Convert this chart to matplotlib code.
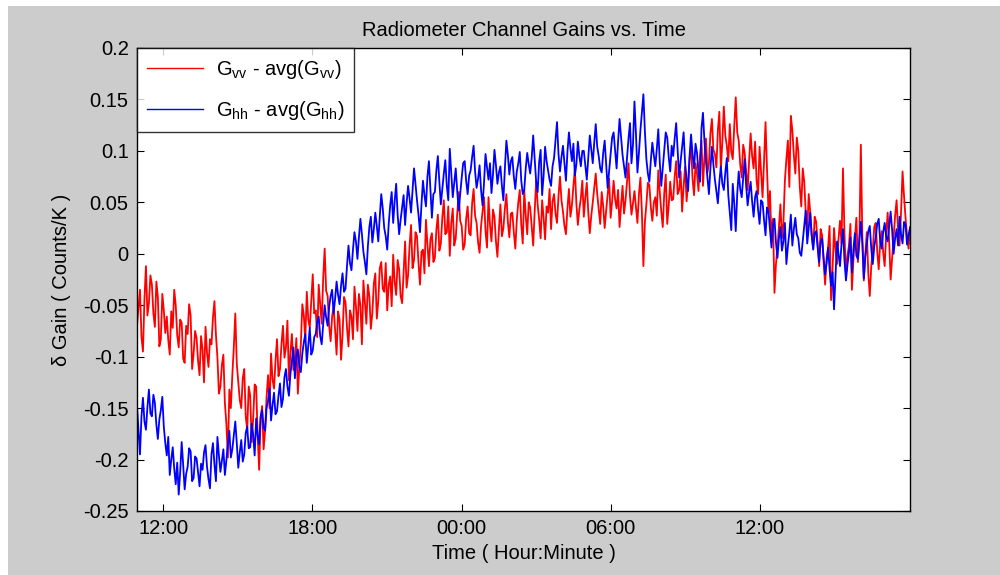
import numpy as np
import matplotlib
matplotlib.use("Agg")
import matplotlib.pyplot as plt
from matplotlib.patches import Rectangle

# Sampling window (hours since midnight of the first day)
t_start = 10.95
t_end = 42.03

# G_vv - avg(G_vv), counts/K
gain_vv = [
    -0.070, -0.052, -0.035, -0.081, -0.095, -0.044, -0.012, -0.060, -0.048, -0.021, -0.030, -0.058, -0.071, -0.027, -0.042, -0.090, -0.083, -0.039, -0.055, -0.077,
    -0.061, -0.084, -0.098, -0.056, -0.072, -0.035, -0.050, -0.079, -0.091, -0.064, -0.067, -0.102, -0.106, -0.070, -0.078, -0.049, -0.060, -0.112, -0.097, -0.075,
    -0.082, -0.104, -0.118, -0.080, -0.093, -0.125, -0.071, -0.096, -0.110, -0.083, -0.088, -0.062, -0.046, -0.079, -0.101, -0.136, -0.129, -0.108, -0.098, -0.145,
    -0.165, -0.198, -0.132, -0.150, -0.118, -0.091, -0.058, -0.107, -0.124, -0.142, -0.150, -0.121, -0.112, -0.158, -0.171, -0.129, -0.138, -0.183, -0.160, -0.127,
    -0.129, -0.176, -0.210, -0.161, -0.148, -0.190, -0.172, -0.139, -0.118, -0.150, -0.097, -0.122, -0.131, -0.104, -0.083, -0.119, -0.112, -0.088, -0.070, -0.101,
    -0.091, -0.065, -0.123, -0.096, -0.078, -0.113, -0.105, -0.082, -0.136, -0.110, -0.088, -0.049, -0.060, -0.083, -0.037, -0.064, -0.072, -0.045, -0.020, -0.058,
    -0.055, -0.081, -0.030, -0.049, -0.068, -0.024, 0.005, -0.036, -0.041, -0.070, -0.085, -0.061, -0.052, -0.074, -0.098, -0.056, -0.064, -0.103, -0.079, -0.042,
    -0.047, -0.072, -0.090, -0.055, -0.061, -0.083, -0.032, -0.051, -0.075, -0.039, -0.050, -0.088, -0.026, -0.047, -0.068, -0.030, -0.041, -0.073, -0.058, -0.029,
    -0.019, -0.063, -0.046, -0.014, -0.008, -0.034, -0.037, -0.009, -0.055, -0.030, -0.022, -0.051, -0.001, -0.027, -0.040, -0.006, -0.015, -0.041, -0.048, -0.018,
    0.012, -0.033, -0.021, 0.008, 0.028, -0.014, -0.006, 0.021, 0.017, -0.009, -0.030, 0.002, 0.004, -0.019, 0.033, 0.009, -0.012, 0.014, 0.020, -0.008,
    -0.004, 0.023, 0.038, 0.003, 0.010, 0.035, 0.052, 0.019, 0.021, 0.046, -0.002, 0.030, 0.044, 0.008, 0.015, 0.039, 0.060, 0.032, 0.027, 0.004,
    0.009, 0.034, 0.046, 0.020, 0.018, 0.049, 0.063, 0.037, 0.030, 0.011, 0.001, 0.027, 0.041, 0.055, 0.022, 0.006, 0.055, 0.028, 0.012, 0.043,
    0.036, 0.012, -0.003, 0.024, 0.048, 0.017, 0.025, 0.044, 0.058, 0.031, 0.016, 0.039, 0.040, 0.021, 0.005, 0.033, 0.050, 0.062, 0.028, 0.010,
    0.062, 0.037, 0.019, 0.050, 0.045, 0.026, 0.008, 0.041, 0.071, 0.048, 0.033, 0.015, 0.052, 0.035, 0.014, 0.046, 0.040, 0.063, 0.024, 0.051,
    0.058, 0.039, 0.030, 0.056, 0.075, 0.052, 0.041, 0.027, 0.019, 0.044, 0.063, 0.036, 0.047, 0.066, 0.082, 0.049, 0.028, 0.043, 0.054, 0.071,
    0.036, 0.055, 0.069, 0.040, 0.020, 0.037, 0.050, 0.064, 0.078, 0.058, 0.043, 0.029, 0.060, 0.046, 0.025, 0.042, 0.057, 0.073, 0.035, 0.051,
    0.071, 0.053, 0.044, 0.062, 0.026, 0.047, 0.066, 0.039, 0.052, 0.070, 0.088, 0.056, 0.038, 0.049, 0.061, 0.045, 0.030, 0.058, 0.074, 0.040,
    -0.012, 0.031, 0.048, 0.069, 0.067, 0.045, 0.032, 0.050, 0.055, 0.037, 0.081, 0.060, 0.041, 0.026, 0.059, 0.077, 0.029, 0.047, 0.070, 0.052,
    0.053, 0.075, 0.090, 0.058, 0.062, 0.080, 0.041, 0.066, 0.085, 0.051, 0.069, 0.092, 0.104, 0.073, 0.057, 0.088, 0.078, 0.061, 0.095, 0.110,
    0.066, 0.094, 0.112, 0.079, 0.088, 0.117, 0.131, 0.101, 0.097, 0.084, 0.120, 0.138, 0.081, 0.109, 0.143, 0.115, 0.105, 0.090, 0.126, 0.099,
    0.092, 0.124, 0.152, 0.118, 0.110, 0.087, 0.074, 0.106, 0.098, 0.080, 0.062, 0.091, 0.117, 0.095, 0.083, 0.109, 0.071, 0.058, 0.104, 0.079,
    0.055, 0.090, 0.128, 0.082, 0.040, 0.061, 0.012, 0.034, -0.038, -0.010, 0.005, 0.026, 0.048, 0.015, 0.030, 0.071, 0.092, 0.110, 0.065, 0.134,
    0.120, 0.096, 0.078, 0.113, 0.100, 0.065, 0.046, 0.083, 0.070, 0.039, 0.022, 0.058, 0.041, 0.018, 0.005, 0.036, 0.031, 0.009, -0.012, 0.024,
    0.018, -0.008, -0.030, -0.004, 0.006, 0.027, -0.045, -0.016, 0.025, 0.003, -0.010, 0.014, 0.032, 0.010, 0.083, 0.020, -0.021, -0.002, 0.008, 0.029,
    -0.035, -0.006, 0.015, 0.035, -0.008, 0.012, 0.106, 0.017, -0.026, 0.000, 0.021, -0.019, -0.041, -0.012, 0.004, 0.026, 0.030, 0.002, -0.015, 0.011,
    0.022, 0.001, -0.012, 0.019, 0.040, 0.013, -0.025, -0.004, 0.018, 0.037, 0.052, 0.024, 0.008, 0.041, 0.080, 0.056, 0.035, 0.018, 0.005, 0.026,
]

# G_hh - avg(G_hh), counts/K
gain_hh = [
    -0.148, -0.172, -0.195, -0.158, -0.140, -0.163, -0.171, -0.149, -0.132, -0.155, -0.158, -0.137, -0.145, -0.166, -0.180, -0.161, -0.152, -0.139, -0.168, -0.184,
    -0.196, -0.178, -0.215, -0.200, -0.188, -0.209, -0.224, -0.203, -0.234, -0.212, -0.183, -0.205, -0.229, -0.214, -0.207, -0.189, -0.192, -0.221, -0.218, -0.197,
    -0.199, -0.213, -0.226, -0.204, -0.210, -0.193, -0.186, -0.207, -0.219, -0.228, -0.195, -0.184, -0.205, -0.221, -0.178, -0.196, -0.212, -0.201, -0.190, -0.215,
    -0.201, -0.185, -0.172, -0.198, -0.190, -0.176, -0.163, -0.184, -0.208, -0.193, -0.181, -0.202, -0.195, -0.174, -0.168, -0.189, -0.188, -0.165, -0.176, -0.196,
    -0.160, -0.177, -0.185, -0.158, -0.152, -0.169, -0.172, -0.150, -0.143, -0.131, -0.162, -0.147, -0.135, -0.156, -0.153, -0.138, -0.126, -0.149, -0.141, -0.120,
    -0.112, -0.129, -0.138, -0.117, -0.104, -0.091, -0.121, -0.100, -0.093, -0.110, -0.115, -0.097, -0.086, -0.078, -0.106, -0.089, -0.072, -0.098, -0.094, -0.081,
    -0.078, -0.066, -0.061, -0.080, -0.088, -0.069, -0.050, -0.062, -0.070, -0.052, -0.041, -0.035, -0.058, -0.044, -0.027, -0.040, -0.049, -0.031, -0.019, -0.037,
    -0.034, -0.012, 0.008, -0.009, -0.016, 0.004, 0.021, 0.012, -0.005, 0.016, 0.034, 0.019, 0.002, -0.008, -0.020, 0.007, 0.026, 0.036, 0.011, 0.024,
    0.040, 0.027, 0.012, 0.036, 0.058, 0.044, 0.025, 0.017, 0.004, 0.029, 0.047, 0.060, 0.030, 0.051, 0.068, 0.038, 0.019, 0.033, 0.045, 0.057,
    0.028, 0.049, 0.066, 0.054, 0.040, 0.061, 0.083, 0.067, 0.052, 0.038, 0.021, 0.048, 0.071, 0.057, 0.046, 0.075, 0.090, 0.062, 0.035, 0.058,
    0.060, 0.081, 0.095, 0.070, 0.048, 0.063, 0.078, 0.091, 0.066, 0.052, 0.102, 0.079, 0.055, 0.069, 0.083, 0.061, 0.042, 0.058, 0.074, 0.088,
    0.090, 0.071, 0.058, 0.076, 0.081, 0.094, 0.105, 0.080, 0.064, 0.073, 0.086, 0.062, 0.047, 0.069, 0.097, 0.084, 0.072, 0.088, 0.059, 0.077,
    0.101, 0.086, 0.068, 0.079, 0.085, 0.066, 0.052, 0.083, 0.110, 0.096, 0.077, 0.090, 0.094, 0.075, 0.063, 0.080, 0.088, 0.099, 0.071, 0.058,
    0.062, 0.083, 0.098, 0.087, 0.078, 0.093, 0.115, 0.092, 0.070, 0.060, 0.089, 0.101, 0.057, 0.076, 0.104, 0.090, 0.081, 0.072, 0.066, 0.085,
    0.093, 0.110, 0.128, 0.097, 0.080, 0.094, 0.105, 0.088, 0.071, 0.099, 0.118, 0.103, 0.090, 0.107, 0.076, 0.087, 0.109, 0.095, 0.085, 0.100,
    0.100, 0.086, 0.072, 0.094, 0.115, 0.101, 0.088, 0.108, 0.126, 0.104, 0.095, 0.083, 0.079, 0.098, 0.110, 0.087, 0.064, 0.081, 0.097, 0.113,
    0.118, 0.101, 0.083, 0.109, 0.131, 0.114, 0.096, 0.085, 0.074, 0.093, 0.112, 0.127, 0.088, 0.106, 0.148, 0.117, 0.079, 0.098, 0.120, 0.137,
    0.155, 0.119, 0.092, 0.078, 0.070, 0.091, 0.108, 0.096, 0.085, 0.102, 0.121, 0.089, 0.066, 0.083, 0.099, 0.118, 0.113, 0.094, 0.080, 0.105,
    0.095, 0.112, 0.127, 0.101, 0.074, 0.090, 0.104, 0.118, 0.088, 0.072, 0.061, 0.095, 0.116, 0.097, 0.083, 0.107, 0.098, 0.079, 0.070, 0.122,
    0.137, 0.109, 0.090, 0.074, 0.058, 0.083, 0.104, 0.087, 0.072, 0.061, 0.049, 0.070, 0.085, 0.068, 0.062, 0.079, 0.093, 0.057, 0.040, 0.023,
    0.068, 0.049, 0.022, 0.058, 0.080, 0.063, 0.055, 0.074, 0.092, 0.066, 0.047, 0.060, 0.070, 0.051, 0.036, 0.055, 0.061, 0.043, 0.029, 0.052,
    0.050, 0.033, 0.018, 0.045, 0.041, 0.024, 0.006, 0.028, 0.034, 0.011, -0.004, 0.015, 0.026, 0.003, 0.012, 0.030, -0.010, 0.007, 0.021, 0.038,
    0.008, 0.024, 0.035, 0.019, 0.015, 0.001, -0.002, 0.013, 0.028, 0.042, 0.010, 0.025, 0.040, 0.018, 0.004, 0.020, 0.022, 0.006, -0.008, 0.012,
    0.015, -0.004, -0.020, -0.009, 0.006, -0.015, -0.031, -0.018, -0.054, -0.021, 0.012, 0.000, -0.012, 0.009, 0.024, -0.006, -0.026, -0.011, 0.001, 0.016,
    -0.018, 0.004, 0.020, -0.002, -0.005, 0.014, 0.031, 0.010, -0.024, -0.003, 0.009, 0.022, 0.027, 0.005, -0.010, 0.007, 0.016, 0.029, 0.034, 0.012,
    0.005, 0.021, 0.030, 0.017, 0.012, 0.027, 0.041, 0.023, 0.000, 0.015, 0.024, 0.008, 0.036, 0.019, 0.010, 0.031, 0.028, 0.009, 0.018, 0.025,
]

x_tick_hours = [12, 18, 24, 30, 36]
x_tick_labels = ["12:00", "18:00", "00:00", "06:00", "12:00"]
y_ticks = [-0.25, -0.2, -0.15, -0.1, -0.05, 0, 0.05, 0.1, 0.15, 0.2]
y_tick_labels = ["-0.25", "-0.2", "-0.15", "-0.1", "-0.05", "0", "0.05", "0.1", "0.15", "0.2"]

plt.rcParams["font.family"] = ["Liberation Sans", "DejaVu Sans"]
plt.rcParams["mathtext.fontset"] = "custom"
plt.rcParams["mathtext.rm"] = "Liberation Sans"
plt.rcParams["mathtext.it"] = "Liberation Sans"

W, H = 1000, 575
fig = plt.figure(figsize=(W / 100, H / 100), dpi=100, facecolor="white")
fig.patches.append(Rectangle((8 / W, 0), 1 - 8 / W, 1 - 6 / H, transform=fig.transFigure,
                             facecolor="#cccccc", edgecolor="none", zorder=-10))

ax = fig.add_axes([137 / W, 1 - 511 / H, (910 - 137) / W, (511 - 48) / H])
ax.set_facecolor("white")

t = np.linspace(t_start, t_end, len(gain_vv))
ax.plot(t, gain_vv, color="#ff0000", lw=1.3,
        label=r"G$_{\mathrm{vv}}$ - avg(G$_{\mathrm{vv}}$)")
ax.plot(t, gain_hh, color="#0000ff", lw=1.3,
        label=r"G$_{\mathrm{hh}}$ - avg(G$_{\mathrm{hh}}$)")

ax.set_xlim(t_start, t_end)
ax.set_ylim(-0.25, 0.2)
ax.set_xticks(x_tick_hours)
ax.set_xticklabels(x_tick_labels)
ax.set_yticks(y_ticks)
ax.set_yticklabels(y_tick_labels)
ax.tick_params(direction="in", length=5, width=0.8, labelsize=14.5,
               top=True, right=True, pad=6)
for s in ax.spines.values():
    s.set_linewidth(1.0)

ax.set_title("Radiometer Channel Gains vs. Time", fontsize=14.5, pad=9)
ax.set_xlabel("Time ( Hour:Minute )", fontsize=14.5, labelpad=4)
ax.set_ylabel("δ Gain ( Counts/K )", fontsize=14.5, labelpad=9)

leg = ax.legend(loc="upper left", fontsize=14.5, frameon=True, fancybox=False,
                edgecolor="black", borderaxespad=0, handlelength=2.8,
                borderpad=0.5, labelspacing=0.9, handletextpad=0.6)
leg.get_frame().set_linewidth(1.0)
for h in leg.get_lines():
    h.set_linewidth(1.0)

fig.savefig("out.png", dpi=100, facecolor=fig.get_facecolor())
